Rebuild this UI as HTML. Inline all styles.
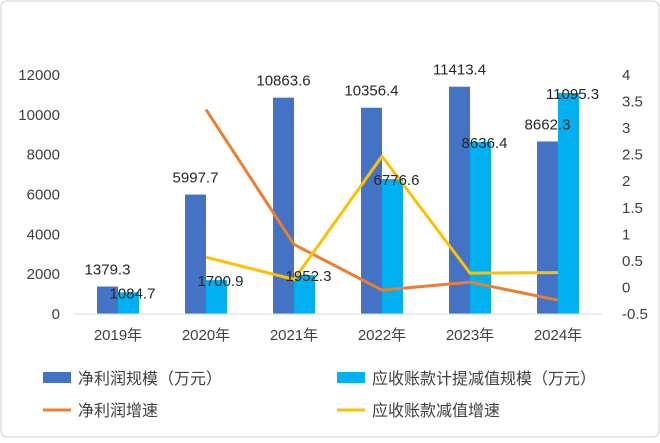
<!DOCTYPE html>
<html><head><meta charset="utf-8">
<style>
html,body{margin:0;padding:0;background:#fff;}
svg text{font-family:"Liberation Sans","Noto Sans CJK SC",sans-serif;fill:#404040;}
</style></head>
<body>
<svg id="chart" width="660" height="438" viewBox="0 0 660 438" xmlns="http://www.w3.org/2000/svg">
<rect x="1" y="1" width="658" height="436" rx="6" fill="#fff" stroke="#d0d0d0"/>
<g id="plot"></g>
<g font-size="16">
 <rect x="43" y="372" width="28" height="11" fill="#4472c4"/>
 <text x="78" y="384" font-size="16">净利润规模（万元）</text>
 <rect x="337" y="372" width="28" height="11" fill="#00b0f0"/>
 <text x="372" y="384" font-size="16">应收账款计提减值规模（万元）</text>
 <line x1="43" y1="410" x2="71" y2="410" stroke="#ed7d31" stroke-width="3"/>
 <text x="78" y="416" font-size="16">净利润增速</text>
 <line x1="337" y1="410" x2="365" y2="410" stroke="#ffc000" stroke-width="3"/>
 <text x="372" y="416" font-size="16">应收账款减值增速</text>
</g>
</svg>
<script>
const categories = ["2019年","2020年","2021年","2022年","2023年","2024年"];
const netProfit = [1379.3,5997.7,10863.6,10356.4,11413.4,8662.3];
const receivable = [1084.7,1700.9,1952.3,6776.6,8636.4,11095.3];
const netGrowth = [null,3.35,0.81,-0.05,0.10,-0.24];
const recGrowth = [null,0.57,0.15,2.47,0.27,0.28];
const leftTicks = [0,2000,4000,6000,8000,10000,12000];
const rightTicks = [-0.5,0,0.5,1,1.5,2,2.5,3,3.5,4];

const NS="http://www.w3.org/2000/svg";
const g=document.getElementById('plot');
const x0=74,bw=88,x1=x0+bw*categories.length,yTop=75,yBot=314;
const yL=v=>yBot-(v-0)/(12000-0)*(yBot-yTop);
const yR=v=>yBot-(v+0.5)/(4.5)*(yBot-yTop);
const cx=i=>x0+bw*(i+0.5);
function mk(t,a,txt){const e=document.createElementNS(NS,t);for(const k in a)e.setAttribute(k,a[k]);if(txt!==undefined)e.textContent=txt;g.appendChild(e);return e;}

leftTicks.forEach(v=>{const e=mk('text',{x:60,y:yL(v)+5,'text-anchor':'end','font-size':15},String(v));

});
rightTicks.forEach(v=>{const e=mk('text',{x:622,y:yR(v)+5,'font-size':15},String(v));

});

const barW=21;
categories.forEach((c,i)=>{
 const t=mk('text',{x:cx(i),y:yBot+26,'text-anchor':'middle','font-size':15},c);
 
 
 const b1=mk('rect',{x:cx(i)-barW,y:yL(netProfit[i]),width:barW,height:yBot-yL(netProfit[i]),fill:'#4472c4'});
 
 
 const b2=mk('rect',{x:cx(i),y:yL(receivable[i]),width:barW,height:yBot-yL(receivable[i]),fill:'#00b0f0'});
 
 
});
const ax=mk('line',{x1:x0,y1:yBot,x2:x1,y2:yBot,stroke:'#d9d9d9','stroke-width':1});



function line(arr,color,name){
 const pts=arr.map((v,i)=>v===null?null:cx(i)+','+yR(v)).filter(p=>p);
 const p=mk('polyline',{points:pts.join(' '),fill:'none',stroke:color,'stroke-width':3,'stroke-linejoin':'round'});
 
 
}
line(netGrowth,'#ed7d31','line-net-profit-growth');
line(recGrowth,'#ffc000','line-receivable-growth');

categories.forEach((c,i)=>{
 const l1=mk('text',{x:cx(i)-barW/2,y:yL(netProfit[i])-12,'text-anchor':'middle','font-size':15,style:'fill:#262626'},netProfit[i].toFixed(1));
 
 
 const l2=mk('text',{x:cx(i)+barW/2+4,y:yL(receivable[i])+6,'text-anchor':'middle','font-size':15,style:'fill:#262626'},receivable[i].toFixed(1));
 
 
});
</script>
</body></html>
